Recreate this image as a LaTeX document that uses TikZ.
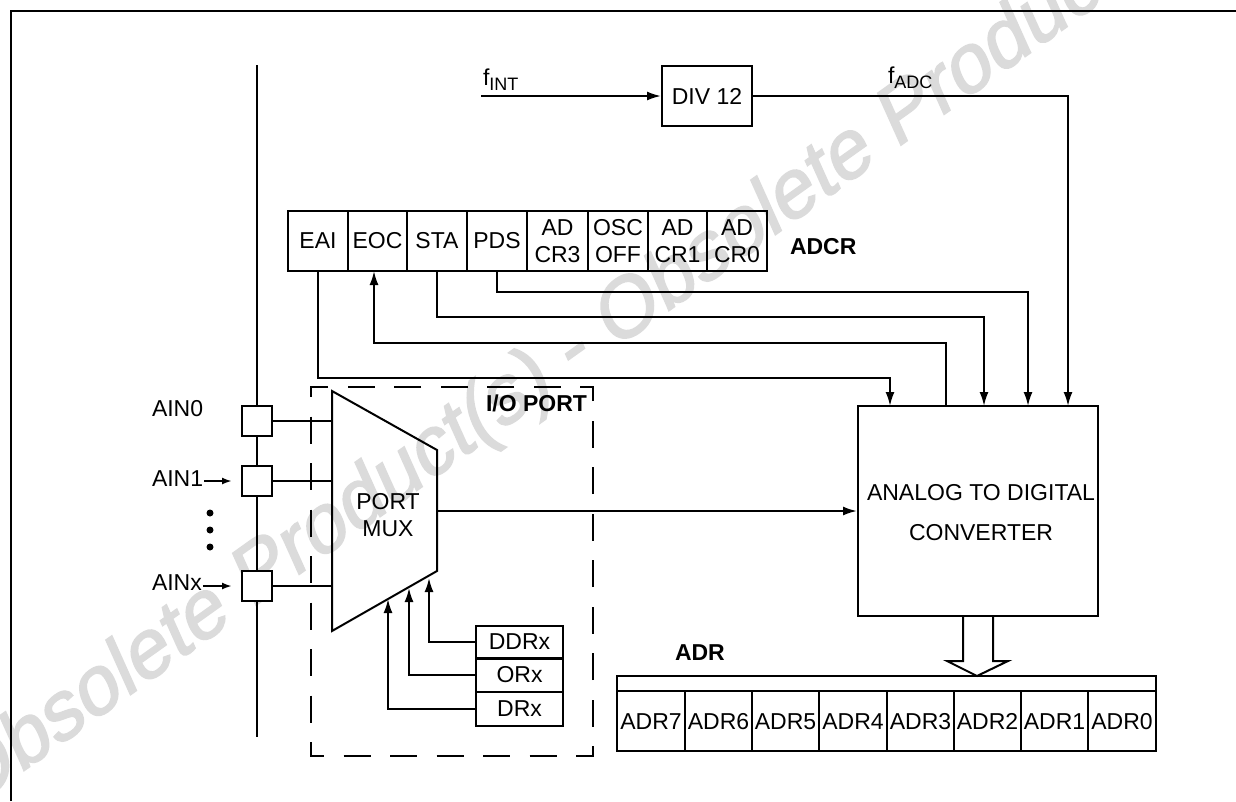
\documentclass[tikz,border=0pt]{standalone}
\usepackage{fontspec}
\setmainfont{Liberation Sans}
\newfontfamily\watermarkfont[FakeBold=2,FakeSlant=0.2]{Liberation Sans}
\usetikzlibrary{arrows.meta}
\newcommand{\lowered}[1]{\raisebox{-5pt}{\fontsize{18}{18}\selectfont #1}}
\tikzset{
  cell/.style={draw, inner sep=0pt, align=center},
  plaintext/.style={inner sep=0pt, align=center},
  boldtext/.style={inner sep=0pt, font=\fontsize{23}{26}\selectfont\bfseries},
  smalltip/.style={>={Latex[length=10pt,width=7pt]}}
}
\begin{document}
\begin{tikzpicture}[x=1pt, y=-1pt, line width=2pt, >={Latex[length=14pt,width=9pt]},
    font=\fontsize{23}{27}\selectfont]
      \useasboundingbox (0,0) rectangle (1236,801);
      \node[rotate=35.5, text=black!14, inner sep=0pt, font=\fontsize{81}{81}\watermarkfont] (watermark) at (572,354) {Obsolete Product(s) - Obsolete Product(s)};
      \draw (11,801) -- (11,11) -- (1236,11);

      % bus and analog inputs
      \coordinate (bustop) at (257,65);
      \coordinate (busbottom) at (257,737);
      \draw (bustop) -- (busbottom);
      \node[cell, fill=white, minimum width=30pt, minimum height=30pt] (ain0box) at (257,421) {};
      \node[cell, fill=white, minimum width=30pt, minimum height=30pt] (ain1box) at (257,481) {};
      \node[cell, fill=white, minimum width=30pt, minimum height=30pt] (ainxbox) at (257,586) {};
      \node[plaintext, anchor=west] (ain0) at (151,409) {AIN0};
      \node[plaintext, anchor=west] (ain1) at (151,479) {AIN1};
      \node[plaintext, anchor=west] (ainx) at (151,583) {AINx};
      \coordinate (ain1tip) at (232,481);
      \coordinate (ainxtip) at (232,586);
      \draw[smalltip, ->] (ain1.east |- ain1tip) -- (ain1tip);
      \draw[smalltip, ->] (ainx.east |- ainxtip) -- (ainxtip);
      \fill (210,513) circle [radius=3.5pt];
      \fill (210,530) circle [radius=3.5pt];
      \fill (210,547) circle [radius=3.5pt];

      % I/O port
      \draw[dash pattern=on 27pt off 19.5pt] (311,742) -- (311,756) -- (593,756) -- (593,387) -- (311,387) -- cycle;
      \node[boldtext, anchor=east] (ioport) at (588,403) {I/O PORT};
      \coordinate (muxa) at (332,391);
      \coordinate (muxb) at (437,450);
      \coordinate (muxc) at (437,571);
      \coordinate (muxd) at (332,631);
      \draw (muxa) -- (muxb) -- (muxc) -- (muxd) -- cycle;
      \node[plaintext] (mux) at (388,515) {PORT\\MUX};
      \draw (ain0box.east) -- (muxa |- ain0box);
      \draw (ain1box.east) -- (muxa |- ain1box);
      \draw (ainxbox.east) -- (muxa |- ainxbox);
      \node[cell, minimum width=87pt, minimum height=33pt] (ddrx) at (519.5,642) {DDRx};
      \node[cell, minimum width=87pt, minimum height=34pt] (orx) at (519.5,675) {ORx};
      \node[cell, minimum width=87pt, minimum height=34pt] (drx) at (519.5,709) {DRx};
      \coordinate (ddrtip) at (429,578);
      \coordinate (ortip) at (409,588);
      \coordinate (drtip) at (388,599);
      \draw[->] (ddrx.west) -| (ddrtip);
      \draw[->] (orx.west) -| (ortip);
      \draw[->] (drx.west) -| (drtip);

      % clock divider
      \node[cell, minimum width=90pt, minimum height=60pt] (div) at (707,96) {DIV 12};
      \coordinate (fintin) at (481,96);
      \node[plaintext, anchor=base west] (fint) at (482,85) {f\lowered{INT}};
      \node[plaintext, anchor=base west] (fadc) at (887,83) {f\lowered{ADC}};
      \draw[->] (fintin) -- (div.west);

      % converter
      \node[cell, minimum width=240pt, minimum height=210pt] (adc) at (978,511) {};
      \node[plaintext] (adctext) at (981,493) {ANALOG TO DIGITAL};
      \node[plaintext] (adctexttwo) at (981,533) {CONVERTER};
      \coordinate (muxout) at (437,511);
      \draw[->] (muxout) -- (adc.west);
      \draw[->] (div.east) -| (1068,406);

      % control register
      \node[cell, minimum width=60pt, minimum height=60pt] (eai) at (318,241) {EAI};
      \node[cell, minimum width=59pt, minimum height=60pt] (eoc) at (377.5,241) {EOC};
      \node[cell, minimum width=60pt, minimum height=60pt] (sta) at (437,241) {STA};
      \node[cell, minimum width=60pt, minimum height=60pt] (pds) at (497,241) {PDS};
      \node[cell, minimum width=61pt, minimum height=60pt] (adcr3) at (557.5,241) {AD\\CR3};
      \node[cell, minimum width=60pt, minimum height=60pt] (osc) at (618,241) {OSC\\OFF};
      \node[cell, minimum width=59pt, minimum height=60pt] (adcr1) at (677.5,241) {AD\\CR1};
      \node[cell, minimum width=60pt, minimum height=60pt] (adcr0) at (737,241) {AD\\CR0};
      \node[boldtext, anchor=west] (adcr) at (789,247) {ADCR};
      \draw[->] (eai.south) |- (890,378) -- (890,406);
      \draw[->] (946,406) |- (374,343) -- (374,271);
      \draw[->] (sta.south) |- (984,317) -- (984,406);
      \draw[->] (pds.south) |- (1028,292) -- (1028,406);

      % data register
      \node[cell, minimum width=539pt, minimum height=15pt] (adrtop) at (886.5,683.5) {};
      \foreach \name/\xpos in {7/651, 6/718.5, 5/785.5, 4/853, 3/920.5, 2/987.5, 1/1054.5, 0/1122}
        \node[cell, text height=16.5pt, text depth=0pt, minimum width=67.5pt, minimum height=60pt] (adr\name) at (\xpos,721) {ADR\name};
      \node[boldtext, anchor=west] (adr) at (674,653) {ADR};
      \draw (963,616) -- (963,661) -- (947,661) -- (977,676) -- (1008,661) -- (993,661) -- (993,616);
    \end{tikzpicture}
\end{document}
